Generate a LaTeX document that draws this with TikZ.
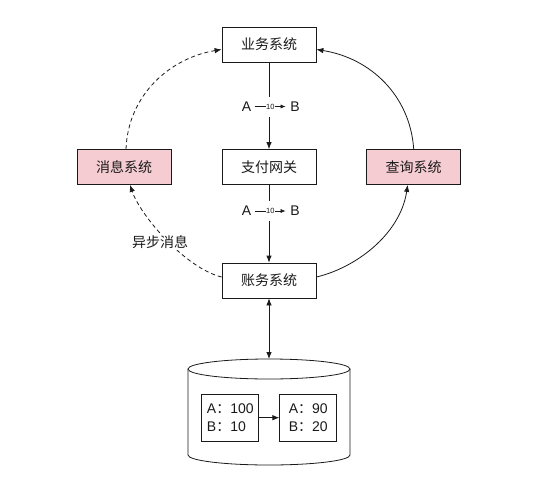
\documentclass[tikz,border=0pt]{standalone}
\usepackage{fontspec}
\setmainfont{Liberation Sans}
\newfontfamily\cjk{Noto Sans CJK SC}
\usetikzlibrary{arrows.meta}
\definecolor{pinkfill}{HTML}{F5CCD2}
\definecolor{ln}{HTML}{1A1A1A}
\tikzset{
 box/.style={draw=ln, line width=0.8pt, minimum width=94pt, minimum height=35pt, inner sep=0pt, font=\cjk\fontsize{14}{16}\selectfont, text=ln},
 pinkbox/.style={box, fill=pinkfill},
 conn/.style={draw=ln, line width=0.8pt, -{Latex[length=7pt,width=5.5pt]}},
 dconn/.style={conn, dash pattern=on 4pt off 3pt},
 bothconn/.style={draw=ln, line width=0.8pt, {Latex[length=7pt,width=5.5pt]}-{Latex[length=7pt,width=5.5pt]}},
 lbl/.style={font=\fontsize{14}{16}\selectfont, text=ln, inner sep=0pt},
 cjklbl/.style={font=\cjk\fontsize{14}{16}\selectfont, text=ln, fill=white, inner sep=1pt},
 tinylbl/.style={font=\fontsize{7.5}{8}\selectfont, text=ln, fill=white, inner sep=0.5pt},
 smallconn/.style={draw=ln, line width=0.6pt, -{Latex[length=5pt,width=4pt]}},
 gap/.style={fill=white, minimum width=60pt, minimum height=20pt, inner sep=0pt},
 valbox/.style={draw=ln, line width=0.8pt, minimum width=57pt, minimum height=47pt, align=left, inner sep=0pt, font=\fontsize{14}{18}\selectfont, text=ln},
}
\begin{document}
\begin{tikzpicture}[x=1pt,y=-1pt]
\useasboundingbox[fill=white] (0,0) rectangle (545,500);
% main boxes
\node[box] (yw) at (269,44.5) {业务系统};
\node[box] (zf) at (269,167) {支付网关};
\node[box] (zw) at (269,280.5) {账务系统};
\node[pinkbox] (xm) at (124,167) {消息系统};
\node[pinkbox] (cx) at (413.7,167) {查询系统};
% vertical connectors with label gaps
\draw[conn] (yw.south) -- node[gap, pos=0.52]{} (zf.north);
\draw[conn] (zf.south) -- node[gap, pos=0.33]{} (zw.north);
% A -10-> B labels
\node[lbl] (a1) at (246.5,106.5) {A};
\node[lbl] (b1) at (295,106.5) {B};
\draw[smallconn] ([xshift=3.5pt]a1.east) -- node[tinylbl]{10} ([xshift=-4.5pt]b1.west);
\node[lbl] (a2) at (246.5,211) {A};
\node[lbl] (b2) at (295,211) {B};
\draw[smallconn] ([xshift=3.5pt]a2.east) -- node[tinylbl]{10} ([xshift=-4.5pt]b2.west);
% curved connectors
\draw[conn] (cx.north) .. controls (410,95) and (370,58) .. ([yshift=-5pt]yw.east);
\draw[conn] ([yshift=3.5pt]zw.east) .. controls (355,268) and (400,235) .. ([xshift=-6pt]cx.south);
\draw[dconn] ([xshift=2pt]xm.north) .. controls (128,95) and (170,58) .. ([yshift=-5pt]yw.west);
\draw[dconn] ([yshift=3.5pt]zw.west) .. controls (185,268) and (140,215) .. ([xshift=6pt]xm.south);
\node[cjklbl] (async) at (160,242) {异步消息};
% database cylinder
\draw[draw=ln, line width=0.8pt, fill=white] (188,369) -- (188,455) arc[start angle=180, end angle=0, x radius=81, y radius=10] -- (350,369);
\draw[draw=ln, line width=0.8pt, fill=white] (269,369) ellipse[x radius=81, y radius=10];
\coordinate (cyltop) at (269,359);
\draw[bothconn] (zw.south) -- (cyltop);
% value boxes
\node[valbox] (v1) at (230.3,417.7) {A{\cjk ：}100\\B{\cjk ：}10};
\node[valbox] (v2) at (308.3,417.7) {A{\cjk ：}90\\B{\cjk ：}20};
\draw[conn] (v1.east) -- (v2.west);
\end{tikzpicture}
\end{document}
